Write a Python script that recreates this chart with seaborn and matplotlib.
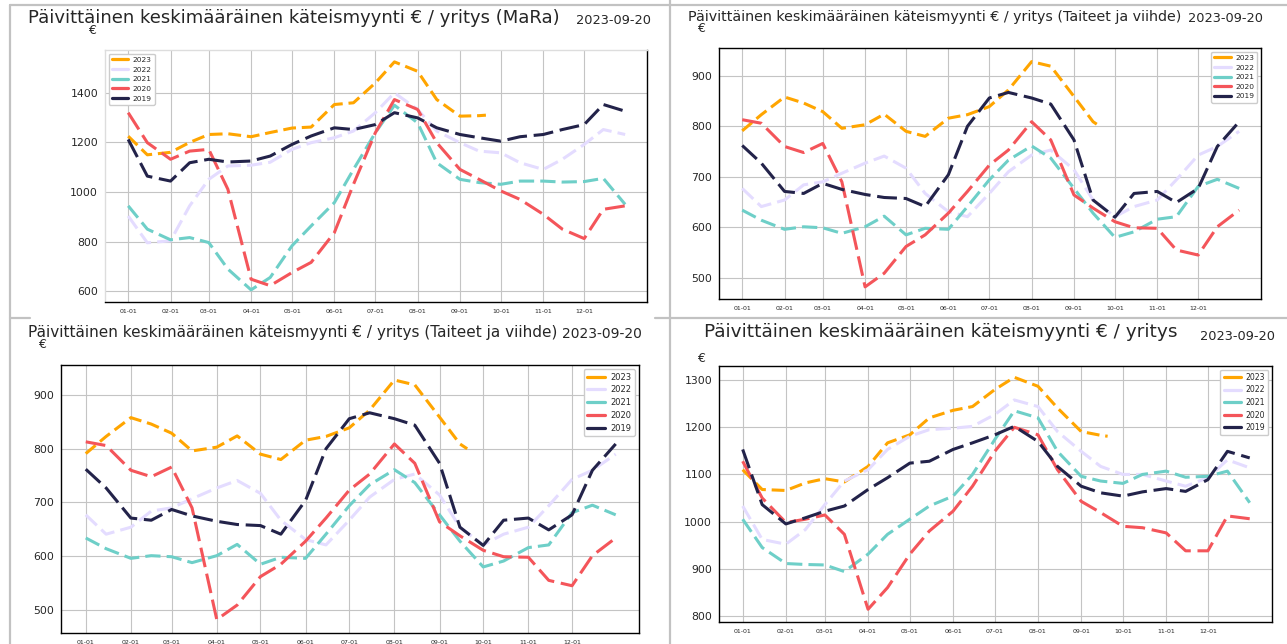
import matplotlib
matplotlib.use("Agg")
import matplotlib.pyplot as plt
import matplotlib.dates as mdates
from matplotlib.lines import Line2D
import seaborn as sns
import pandas as pd

# reading points (MM-DD), 2023 stops at the report date
DATES = ["01-01", "01-15", "02-01", "02-15", "03-01", "03-15", "04-01", "04-15",
         "05-01", "05-15", "06-01", "06-15", "07-01", "07-15", "08-01", "08-15",
         "09-01", "09-15", "10-01", "10-15", "11-01", "11-15", "12-01", "12-15", "12-31"]
DATES_2023 = DATES[:18] + ["09-20"]
YEARS = ["2023", "2022", "2021", "2020", "2019"]
MONTH_TICKS = ["01-01", "02-01", "03-01", "04-01", "05-01", "06-01",
               "07-01", "08-01", "09-01", "10-01", "11-01", "12-01"]

# MaRa
MARA_2023 = [1225, 1150, 1160, 1200, 1232, 1235, 1223, 1240, 1258, 1262, 1353, 1360,
             1440, 1525, 1487, 1373, 1306, 1308, 1310]
MARA_2022 = [903, 795, 803, 944, 1051, 1105, 1108, 1120, 1172, 1199, 1219, 1246, 1320,
             1400, 1333, 1246, 1199, 1165, 1158, 1118, 1091, 1132, 1192, 1252, 1232]
MARA_2021 = [944, 850, 807, 816, 796, 689, 605, 655, 783, 863, 957, 1091, 1239, 1350,
             1279, 1118, 1051, 1038, 1031, 1044, 1044, 1040, 1042, 1055, 950]
MARA_2020 = [1320, 1199, 1132, 1165, 1172, 1011, 648, 622, 675, 716, 836, 1031, 1239,
             1373, 1333, 1199, 1091, 1051, 1004, 970, 910, 850, 812, 930, 944]
MARA_2019 = [1212, 1064, 1044, 1118, 1132, 1121, 1125, 1145, 1192, 1226, 1259, 1252,
             1272, 1320, 1299, 1259, 1232, 1219, 1205, 1223, 1232, 1252, 1272, 1353, 1326]

# Taiteet ja viihde
TJV_2023 = [791, 823, 858, 846, 829, 796, 803, 824, 790, 780, 816, 823, 839, 872, 928,
            919, 859, 809, 800]
TJV_2022 = [677, 641, 654, 684, 690, 707, 727, 741, 717, 667, 631, 621, 667, 710, 743,
            753, 714, 654, 621, 641, 654, 694, 743, 760, 790]
TJV_2021 = [634, 614, 596, 601, 599, 588, 601, 622, 585, 598, 596, 641, 694, 733, 761,
            737, 677, 628, 580, 591, 616, 621, 681, 695, 677]
TJV_2020 = [813, 806, 760, 748, 766, 690, 482, 509, 562, 585, 628, 671, 723, 753, 809,
            773, 664, 638, 611, 599, 598, 555, 545, 601, 634]
TJV_2019 = [762, 727, 671, 667, 687, 675, 665, 659, 657, 641, 704, 800, 856, 867, 856,
            844, 773, 654, 620, 667, 671, 649, 677, 760, 809]

# kaikki toimialat
ALL_2023 = [1110, 1068, 1066, 1082, 1091, 1084, 1117, 1167, 1184, 1220, 1236, 1244,
            1280, 1306, 1287, 1241, 1191, 1183, 1181]
ALL_2022 = [1033, 962, 952, 983, 1036, 1086, 1110, 1153, 1181, 1195, 1198, 1202, 1227,
            1258, 1244, 1191, 1149, 1117, 1100, 1100, 1086, 1075, 1093, 1131, 1114]
ALL_2021 = [1005, 945, 911, 909, 908, 894, 931, 973, 1005, 1033, 1054, 1100, 1174,
            1235, 1220, 1149, 1096, 1086, 1081, 1100, 1107, 1094, 1096, 1107, 1040]
ALL_2020 = [1128, 1050, 998, 1005, 1014, 973, 814, 860, 931, 980, 1022, 1075, 1149,
            1200, 1184, 1110, 1043, 1019, 990, 987, 976, 938, 938, 1012, 1006]
ALL_2019 = [1153, 1036, 995, 1008, 1022, 1033, 1068, 1093, 1124, 1128, 1153, 1167,
            1184, 1202, 1170, 1117, 1075, 1061, 1054, 1063, 1070, 1064, 1089, 1149, 1135]

TITLE = "Päivittäinen keskimääräinen käteismyynti € / yritys"
DATE_TXT = "2023-09-20"

PALETTE = {"2023": "#FFA500", "2022": "#E4DCFF", "2021": "#6ECFC8",
           "2020": "#F4555A", "2019": "#23234A"}
# long dashes like in the screenshots
DASHES = {"2023": (4.2, 1.9), "2022": (5, 2), "2021": (5, 2),
          "2020": (6.5, 2.2), "2019": (6.5, 2.2)}

W, H = 1287, 644

sns.set_style("whitegrid")
plt.rcParams["font.family"] = ["DejaVu Sans"]

fig = plt.figure(figsize=(W / 100, H / 100), dpi=100)
renderer = fig.canvas.get_renderer()


def to_dates(labels):
    return pd.to_datetime(["2023-" + d for d in labels])


def make_frame(s23, s22, s21, s20, s19):
    parts = []
    for year, vals in zip(YEARS, [s23, s22, s21, s20, s19]):
        labels = DATES_2023 if year == "2023" else DATES
        parts.append(pd.DataFrame({"pvm": to_dates(labels), "euro": vals, "vuosi": year}))
    return pd.concat(parts, ignore_index=True)


def px_axes(x0, y0, x1, y1):
    return fig.add_axes([x0 / W, 1 - y1 / H, (x1 - x0) / W, (y1 - y0) / H])


def fit_text(x0, x1, yc, s):
    # squeeze the text into the pixel span it has in the screenshot
    t = fig.text(x0 / W, 1 - yc / H, s, ha="left", va="center", fontsize=10)
    w = t.get_window_extent(renderer).width
    t.set_fontsize(10 * (x1 - x0) / w)
    return t


def draw_panel(ax, df, ylim, yticks, loc, leg_fs):
    sns.lineplot(data=df, x="pvm", y="euro", hue="vuosi", style="vuosi",
                 hue_order=YEARS, style_order=YEARS, palette=PALETTE,
                 dashes=DASHES, linewidth=2.2, ax=ax)
    ax.set_xlim(pd.Timestamp("2022-12-15"), pd.Timestamp("2024-01-16"))
    ax.set_ylim(*ylim)
    ax.set_xticks(to_dates(MONTH_TICKS))
    ax.xaxis.set_major_formatter(mdates.DateFormatter("%m-%d"))
    ax.set_yticks(yticks)
    ax.tick_params(axis="x", labelsize=4.5, length=2, pad=3)
    ax.tick_params(axis="y", labelsize=7.8, length=3, pad=2)
    ax.set_xlabel("")
    ax.set_ylabel("")
    ax.grid(True, color="#c4c4c4", linewidth=0.8)
    for sp in ax.spines.values():
        sp.set_color("black")
        sp.set_linewidth(1.0)
    handles, labels = ax.get_legend_handles_labels()
    ax.legend(handles, labels, loc=loc, fontsize=leg_fs,
              frameon=True, framealpha=1, edgecolor="#cccccc", handlelength=2.2,
              labelspacing=0.45, borderpad=0.4, handletextpad=0.6)
    for ln in ax.get_legend().get_lines():
        ln.set_linestyle("-")
        ln.set_linewidth(2.3)


# panel borders of the collage
for xs, ys in [([10, 10], [5, 644]), ([670, 670], [0, 644]), ([10, 1287], [5, 5]),
               ([10, 30], [318, 318]), ([655, 1287], [318, 318])]:
    fig.add_artist(Line2D([x / W for x in xs], [1 - y / H for y in ys],
                          transform=fig.transFigure, color="#c2c2c2", linewidth=1.6))

# top left: MaRa
ax1 = px_axes(105, 50, 647, 302)
draw_panel(ax1, make_frame(MARA_2023, MARA_2022, MARA_2021, MARA_2020, MARA_2019),
           (556, 1573), [600, 800, 1000, 1200, 1400], "upper left", 5.4)
ax1.spines["left"].set_color("#dddddd")
ax1.spines["top"].set_color("#dddddd")
fit_text(28, 560, 18, TITLE + " (MaRa)")
fit_text(576, 650, 21, DATE_TXT)
fig.text(88 / W, 1 - 31 / H, "€", ha="left", va="center", fontsize=9)

# top right: Taiteet ja viihde
ax2 = px_axes(719, 48, 1261, 299)
draw_panel(ax2, make_frame(TJV_2023, TJV_2022, TJV_2021, TJV_2020, TJV_2019),
           (458, 955), [500, 600, 700, 800, 900], "upper right", 5.4)
fit_text(688, 1182, 17, TITLE + " (Taiteet ja viihde)")
fit_text(1188, 1262, 18.5, DATE_TXT)
fig.text(697 / W, 1 - 28 / H, "€", ha="left", va="center", fontsize=9)

# bottom left: Taiteet ja viihde again
ax3 = px_axes(61, 365, 639, 633)
draw_panel(ax3, make_frame(TJV_2023, TJV_2022, TJV_2021, TJV_2020, TJV_2019),
           (457, 956), [500, 600, 700, 800, 900], "upper right", 6.0)
fit_text(28, 555, 332, TITLE + " (Taiteet ja viihde)")
fit_text(562, 642, 334, DATE_TXT)
fig.text(38 / W, 1 - 344 / H, "€", ha="left", va="center", fontsize=9)

# bottom right: all sectors
ax4 = px_axes(719, 366, 1272, 622)
draw_panel(ax4, make_frame(ALL_2023, ALL_2022, ALL_2021, ALL_2020, ALL_2019),
           (787, 1330), [800, 900, 1000, 1100, 1200, 1300], "upper right", 5.6)
fit_text(704, 1177, 332, TITLE)
fit_text(1200, 1274, 336, DATE_TXT)
fig.text(697 / W, 1 - 358 / H, "€", ha="left", va="center", fontsize=9)

fig.savefig("out.png", dpi=100, facecolor="white")
